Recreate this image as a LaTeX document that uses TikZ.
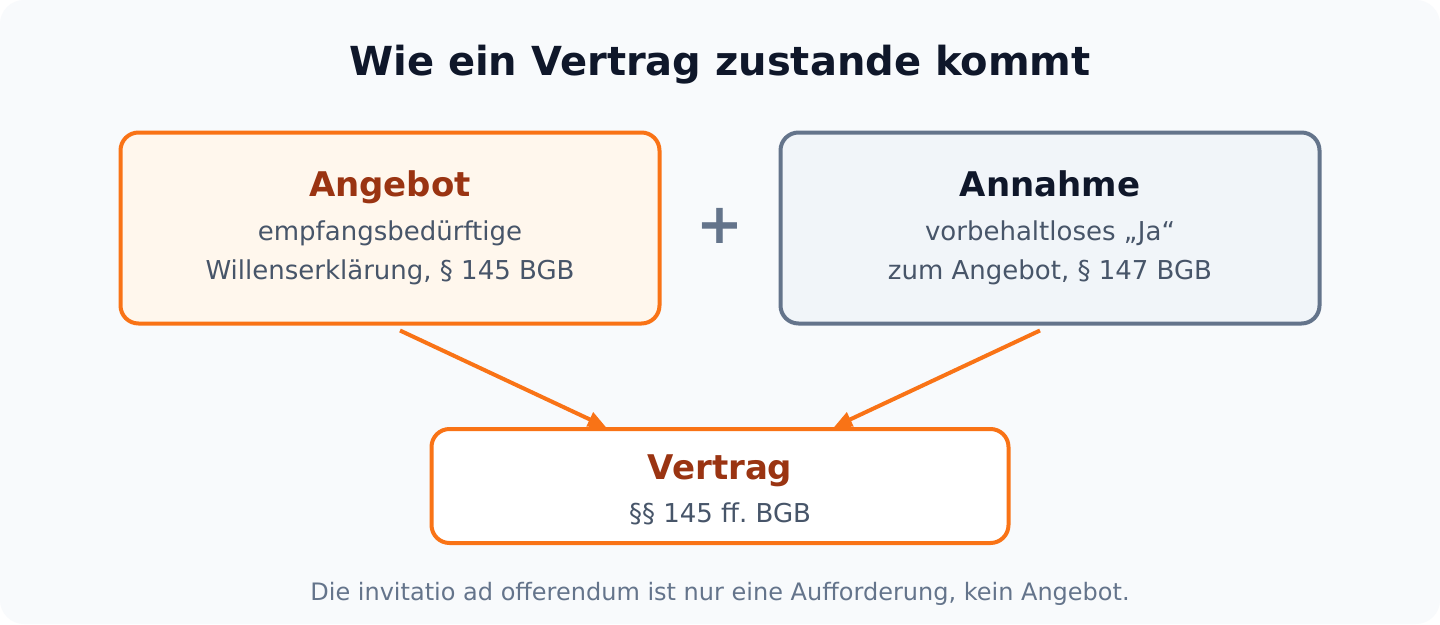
\documentclass[tikz,border=0pt]{standalone}
\usepackage{fontspec}
\setmainfont{DejaVu Sans}
\usetikzlibrary{arrows.meta}
\frenchspacing

\definecolor{hgrund}{HTML}{F8FAFC}
\definecolor{orange}{HTML}{F97316}
\definecolor{orangehell}{HTML}{FFF7ED}
\definecolor{braun}{HTML}{9A3412}
\definecolor{navy}{HTML}{0F172A}
\definecolor{schiefer}{HTML}{475569}
\definecolor{grau}{HTML}{64748B}
\definecolor{grauhell}{HTML}{F1F5F9}

\begin{document}
\begin{tikzpicture}[x=1pt,y=-1pt]
\tikzstyle{box}=[rectangle, rounded corners=18pt, line width=4pt, inner sep=0pt]
\tikzstyle{txt}=[anchor=base, inner sep=0pt]
\tikzstyle{kopf}=[txt, font=\fontsize{34}{40}\selectfont\bfseries]
\tikzstyle{zeile}=[txt, text=schiefer, font=\fontsize{26}{31}\selectfont]
\tikzstyle{pfeil}=[draw=orange, line width=4pt, -{Triangle[length=18pt,width=15pt]}]

\useasboundingbox (0,0) rectangle (1440,624);
\fill[white] (0,0) rectangle (1440,624);
\fill[hgrund, rounded corners=24pt] (0,0) rectangle (1440,624);

\node[txt, text=navy, font=\fontsize{40}{48}\selectfont\bfseries] (titel) at (720,75) {Wie ein Vertrag zustande kommt};

% Angebot
\node[box, draw=orange, fill=orangehell, minimum width=539pt, minimum height=191pt] (angebot) at (390,228) {};
\node[kopf, text=braun] (angebotkopf) at (390,196) {Angebot};
\node[zeile] (angebot1) at (390,240) {empfangsbedürftige};
\node[zeile] (angebot2) at (390,279.5) {Willenserklärung, § 145 BGB};

\node[txt, text=grau, font=\fontsize{56}{64}\selectfont\bfseries] (plus) at (720,243) {+};

% Annahme
\node[box, draw=grau, fill=grauhell, minimum width=539pt, minimum height=191pt] (annahme) at (1050,228) {};
\node[kopf, text=navy] (annahmekopf) at (1050,196) {Annahme};
\node[zeile] (annahme1) at (1050,240) {vorbehaltloses „Ja“};
\node[zeile] (annahme2) at (1050,279.5) {zum Angebot, § 147 BGB};

% Vertrag
\node[box, draw=orange, fill=white, minimum width=577pt, minimum height=114pt] (vertrag) at (720,486) {};
\node[kopf, text=braun] (vertragkopf) at (720,479) {Vertrag};
\node[zeile] (vertrag1) at (720,522) {§§ 145 ff. BGB};

\draw[pfeil] ([xshift=10pt,yshift=-5pt]angebot.south) -- ([xshift=-114pt]vertrag.north);
\draw[pfeil] ([xshift=-10pt,yshift=-5pt]annahme.south) -- ([xshift=114pt]vertrag.north);

\node[txt, text=grau, font=\fontsize{24}{29}\selectfont] (fuss) at (720,600) {Die invitatio ad offerendum ist nur eine Aufforderung, kein Angebot.};
\end{tikzpicture}
\end{document}
